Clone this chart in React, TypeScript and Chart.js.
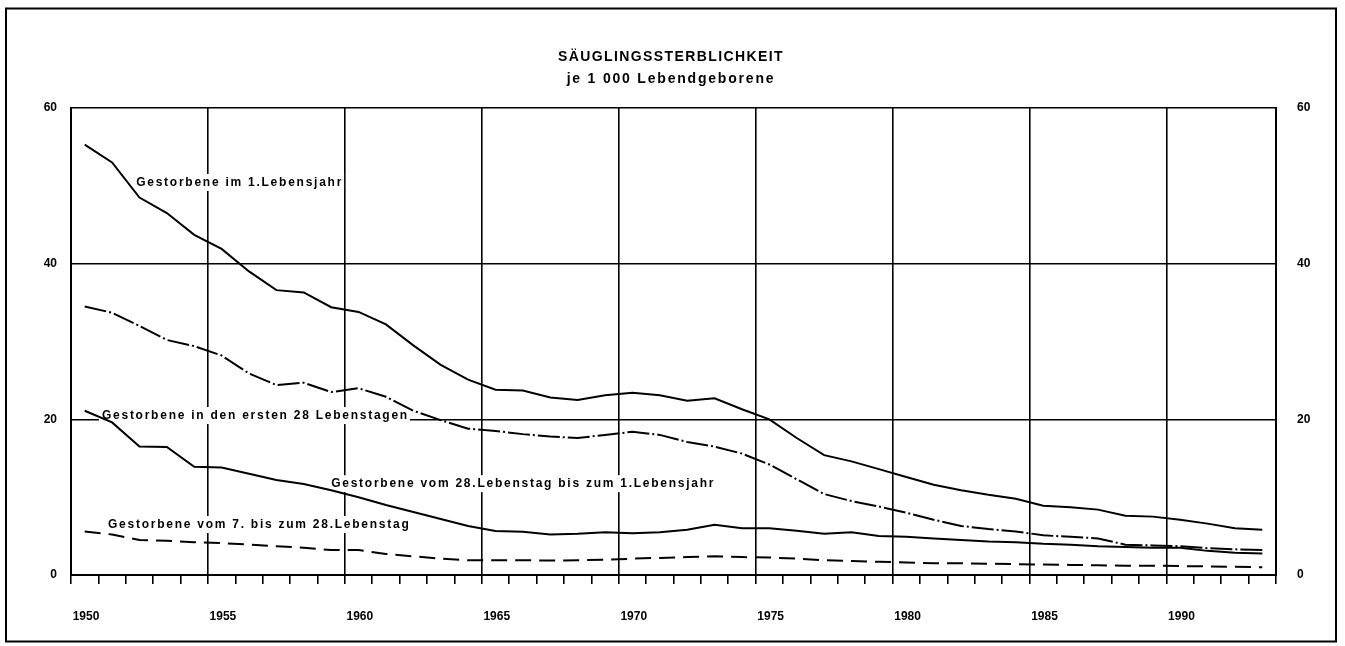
import React, { useEffect, useRef } from 'react';
import { Chart, registerables } from 'chart.js';

Chart.register(...registerables);

const YEARS = [
  1950, 1951, 1952, 1953, 1954, 1955, 1956, 1957, 1958, 1959,
  1960, 1961, 1962, 1963, 1964, 1965, 1966, 1967, 1968, 1969,
  1970, 1971, 1972, 1973, 1974, 1975, 1976, 1977, 1978, 1979,
  1980, 1981, 1982, 1983, 1984, 1985, 1986, 1987, 1988, 1989,
  1990, 1991, 1992, 1993,
];

// Gestorbene im 1. Lebensjahr
const INFANT = [
  55.3, 53.0, 48.5, 46.5, 43.7, 41.9, 39.0, 36.6, 36.3, 34.4,
  33.8, 32.2, 29.5, 27.0, 25.1, 23.8, 23.7, 22.8, 22.5, 23.1,
  23.4, 23.1, 22.4, 22.7, 21.3, 20.0, 17.6, 15.4, 14.6, 13.6,
  12.6, 11.6, 10.9, 10.3, 9.8, 8.9, 8.7, 8.4, 7.6, 7.5,
  7.1, 6.6, 6.0, 5.8,
];

// Gestorbene in den ersten 28 Lebenstagen
const NEONATAL = [
  34.5, 33.7, 32.0, 30.2, 29.4, 28.2, 25.9, 24.4, 24.7, 23.5,
  24.0, 22.9, 21.1, 19.9, 18.8, 18.5, 18.1, 17.8, 17.6, 18.0,
  18.4, 18.0, 17.1, 16.5, 15.6, 14.2, 12.3, 10.4, 9.5, 8.8,
  8.0, 7.1, 6.3, 5.9, 5.6, 5.1, 4.9, 4.7, 3.9, 3.8,
  3.7, 3.45, 3.3, 3.2,
];

// Gestorbene vom 28. Lebenstag bis zum 1. Lebensjahr
const POSTNEONATAL = [
  21.1, 19.6, 16.5, 16.45, 13.9, 13.8, 13.0, 12.2, 11.7, 10.9,
  10.0, 9.0, 8.1, 7.2, 6.3, 5.65, 5.55, 5.2, 5.3, 5.5,
  5.35, 5.5, 5.8, 6.45, 6.0, 6.0, 5.7, 5.3, 5.5, 5.0,
  4.9, 4.7, 4.5, 4.3, 4.2, 4.0, 3.9, 3.7, 3.6, 3.5,
  3.5, 3.1, 2.85, 2.75,
];

// Gestorbene vom 7. bis zum 28. Lebenstag
const LATE_NEONATAL = [
  5.6, 5.2, 4.5, 4.4, 4.2, 4.1, 3.9, 3.7, 3.5, 3.2,
  3.2, 2.7, 2.4, 2.1, 1.9, 1.9, 1.9, 1.85, 1.9, 1.95,
  2.1, 2.2, 2.3, 2.4, 2.3, 2.25, 2.1, 1.9, 1.8, 1.7,
  1.6, 1.5, 1.5, 1.45, 1.4, 1.35, 1.3, 1.25, 1.2, 1.2,
  1.15, 1.1, 1.05, 1.0,
];

const X_LABEL_YEARS = [1950, 1955, 1960, 1965, 1970, 1975, 1980, 1985, 1990];
const Y_TICKS = [0, 20, 40, 60];

const TITLE_LINES = ['SÄUGLINGSSTERBLICHKEIT', 'je 1 000 Lebendgeborene'];
const SERIES_LABELS = [
  'Gestorbene im 1.Lebensjahr',
  'Gestorbene in den ersten 28 Lebenstagen',
  'Gestorbene vom 28.Lebenstag bis zum 1.Lebensjahr',
  'Gestorbene vom 7. bis zum 28.Lebenstag',
];

const FONT = '"Liberation Sans", Arial, Helvetica, sans-serif';

export default function App() {
  const ref = useRef<HTMLCanvasElement | null>(null);

  useEffect(() => {
    document.body.style.margin = '0';
    const canvas = ref.current;
    if (!canvas) return;

    const toPoints = (vals: number[]) => YEARS.map((yr, i) => ({ x: yr + 0.5, y: vals[i] }));

    // label anchors in data coordinates (left x in years, centre y in values)
    const anchors = [
      { text: SERIES_LABELS[0], x: 1952.38, y: 50.5 },
      { text: SERIES_LABELS[1], x: 1951.13, y: 20.55 },
      { text: SERIES_LABELS[2], x: 1959.5, y: 11.8 },
      { text: SERIES_LABELS[3], x: 1951.35, y: 6.55 },
    ];

    const decor = {
      id: 'decor',
      beforeDatasetsDraw(chart: any) {
        const { ctx, scales } = chart;
        ctx.save();
        ctx.font = `bold 12px ${FONT}`;
        (ctx as any).letterSpacing = '1.75px';
        ctx.textBaseline = 'middle';
        ctx.textAlign = 'left';
        anchors.forEach((a) => {
          const px = scales.x.getPixelForValue(a.x);
          const py = scales.y.getPixelForValue(a.y);
          const w = ctx.measureText(a.text).width;
          ctx.fillStyle = '#fff';
          ctx.fillRect(px - 3, py - 8, w + 4, 17);
          ctx.fillStyle = '#000';
          ctx.fillText(a.text, px, py + 1);
        });
        ctx.restore();
      },
      afterDraw(chart: any) {
        const { ctx } = chart;
        ctx.save();
        ctx.strokeStyle = '#000';
        ctx.lineWidth = 2;
        ctx.strokeRect(6, 8.5, 1330, 633);
        ctx.fillStyle = '#000';
        ctx.textAlign = 'center';
        ctx.textBaseline = 'middle';
        ctx.font = `bold 14px ${FONT}`;
        (ctx as any).letterSpacing = '1.4px';
        ctx.fillText(TITLE_LINES[0], 671, 57);
        (ctx as any).letterSpacing = '1.8px';
        ctx.fillText(TITLE_LINES[1], 671, 79);
        ctx.restore();
      },
    };

    const tickFont = { family: FONT, size: 12, weight: 'bold' as const };

    const chart = new Chart(canvas, {
      type: 'line',
      data: {
        datasets: [
          {
            label: SERIES_LABELS[0],
            data: toPoints(INFANT),
            borderColor: '#000',
            borderWidth: 2,
            pointRadius: 0,
            tension: 0,
          },
          {
            label: SERIES_LABELS[1],
            data: toPoints(NEONATAL),
            borderColor: '#000',
            borderWidth: 2,
            borderDash: [22, 3, 2, 3],
            pointRadius: 0,
            tension: 0,
          },
          {
            label: SERIES_LABELS[2],
            data: toPoints(POSTNEONATAL),
            borderColor: '#000',
            borderWidth: 2,
            pointRadius: 0,
            tension: 0,
          },
          {
            label: SERIES_LABELS[3],
            data: toPoints(LATE_NEONATAL),
            borderColor: '#000',
            borderWidth: 2,
            borderDash: [16, 8],
            pointRadius: 0,
            tension: 0,
          },
        ],
      },
      options: {
        animation: false,
        responsive: false,
        devicePixelRatio: 1,
        events: [],
        layout: { padding: { top: 108, left: 0, right: 0, bottom: 0 } },
        plugins: {
          legend: { display: false },
          tooltip: { enabled: false },
          title: { display: false },
        },
        scales: {
          x: {
            type: 'linear',
            position: 'bottom',
            min: 1950,
            max: 1994,
            ticks: {
              stepSize: 1,
              autoSkip: false,
              maxRotation: 0,
              padding: 25,
              labelOffset: 15,
              color: '#000',
              font: tickFont,
              callback: (v: any) => (X_LABEL_YEARS.includes(Number(v)) ? String(v) : ''),
            },
            grid: {
              color: (c: any) => (c.tick && c.tick.value % 5 === 0 ? '#000' : 'rgba(0,0,0,0)'),
              tickColor: '#000',
              lineWidth: 1.6,
              tickWidth: 1.6,
              tickLength: 9,
            },
            border: { color: '#000', width: 2 },
            afterFit: (s: any) => {
              s.height = 71;
            },
          },
          y: {
            position: 'left',
            min: 0,
            max: 60,
            afterBuildTicks: (s: any) => {
              s.ticks = Y_TICKS.map((v) => ({ value: v }));
            },
            ticks: { padding: 14, color: '#000', font: tickFont },
            grid: { color: '#000', lineWidth: 1.6, drawTicks: false },
            border: { color: '#000', width: 2 },
            afterFit: (s: any) => {
              s.width = 71;
            },
          },
          y2: {
            position: 'right',
            min: 0,
            max: 60,
            afterBuildTicks: (s: any) => {
              s.ticks = Y_TICKS.map((v) => ({ value: v }));
            },
            ticks: { padding: 21, color: '#000', font: tickFont },
            grid: { drawOnChartArea: false, drawTicks: false },
            border: { color: '#000', width: 2 },
            afterFit: (s: any) => {
              s.width = 69;
            },
          },
        },
      },
      plugins: [decor],
    });

    return () => chart.destroy();
  }, []);

  return (
    <div style={{ position: 'absolute', left: 0, top: 0, width: 1345, height: 646, background: '#fff' }}>
      <canvas ref={ref} width={1345} height={646} style={{ display: 'block' }} />
    </div>
  );
}
